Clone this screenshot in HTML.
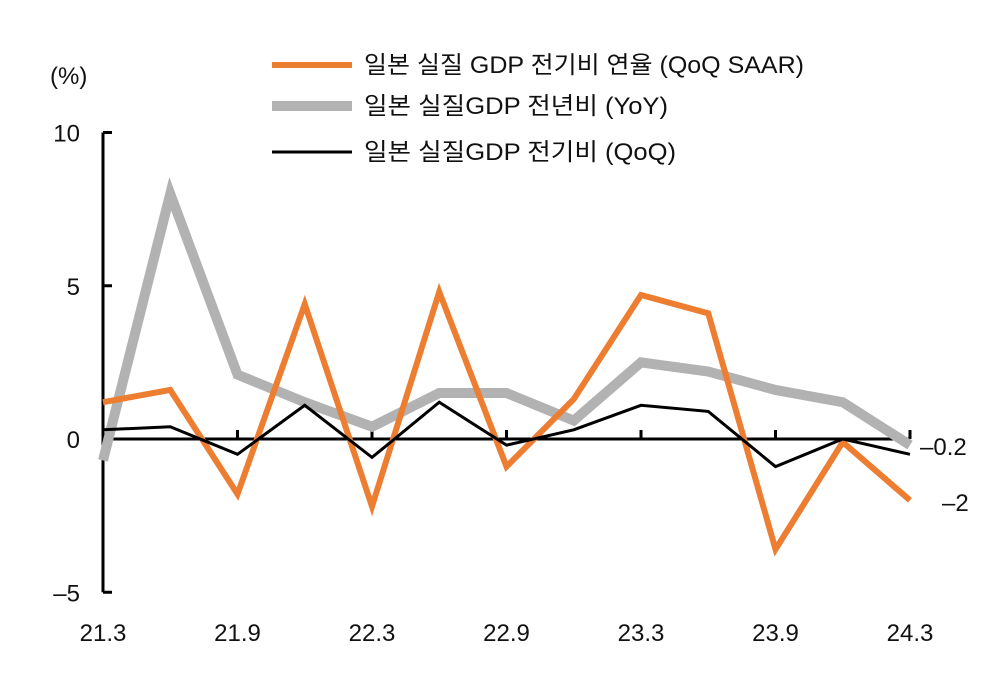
<!DOCTYPE html>
<html><head><meta charset="utf-8"><style>
body{margin:0;background:#fff;}
svg text{font-family:"Liberation Sans","Noto Sans CJK KR",sans-serif;fill:#111;}
</style></head><body>
<svg width="1003" height="678" viewBox="0 0 1003 678">
<g id="axes"></g><g id="series"></g>
<g>
<line x1="272" y1="65" x2="352" y2="65" stroke="#ED7D31" stroke-width="6"/>
<text x="364" y="73" font-size="24" textLength="440" lengthAdjust="spacingAndGlyphs">일본 실질 GDP 전기비 연율 (QoQ SAAR)</text>
<line x1="272" y1="106" x2="352" y2="106" stroke="#B2B2B2" stroke-width="10"/>
<text x="364" y="114" font-size="24" textLength="304" lengthAdjust="spacingAndGlyphs">일본 실질GDP 전년비 (YoY)</text>
<line x1="272" y1="152" x2="352" y2="152" stroke="#000" stroke-width="3"/>
<text x="364" y="160" font-size="24" textLength="312" lengthAdjust="spacingAndGlyphs">일본 실질GDP 전기비 (QoQ)</text>
</g>
<text x="50" y="84" font-size="24">(%)</text>
<text x="920" y="455" font-size="24">–0.2</text>
<text x="942" y="511" font-size="24">–2</text>
</svg>
<script>
const categories=["21.3","21.6","21.9","21.12","22.3","22.6","22.9","22.12","23.3","23.6","23.9","23.12","24.3"];
const saarValues=[1.2,1.6,-1.8,4.4,-2.2,4.8,-0.9,1.3,4.7,4.1,-3.6,-0.1,-2.0];
const yoyValues=[-0.7,8.0,2.1,1.2,0.4,1.5,1.5,0.6,2.5,2.2,1.6,1.2,-0.2];
const qoqValues=[0.3,0.4,-0.5,1.1,-0.6,1.2,-0.2,0.3,1.1,0.9,-0.9,0,-0.5];
const yTicks=[10,5,0,-5];
const xTickLabels=["21.3","21.9","22.3","22.9","23.3","23.9","24.3"];
const NS="http://www.w3.org/2000/svg";
const x0=103,x1=910;
function xs(i){return x0+(x1-x0)*i/(categories.length-1);}
function ys(v){return 439-v*30.65;}
const ax=document.getElementById('axes'),sr=document.getElementById('series');
function mk(t,a,p){const e=document.createElementNS(NS,t);for(const k in a)e.setAttribute(k,a[k]);p.appendChild(e);return e;}
let e=mk('line',{x1:x0,y1:ys(10),x2:x0,y2:ys(-5),stroke:'#000','stroke-width':3},ax);


yTicks.forEach(v=>{
 let t=mk('line',{x1:x0,y1:ys(v),x2:x0+9,y2:ys(v),stroke:'#000','stroke-width':3},ax);
 
 
 let l=mk('text',{x:x0-23,y:ys(v)+9,'font-size':24,'text-anchor':'end'},ax);
 l.textContent=v<0?'–'+Math.abs(v):v;
 
 
});
e=mk('line',{x1:x0,y1:ys(0),x2:x1,y2:ys(0),stroke:'#000','stroke-width':3},ax);


xTickLabels.forEach(lab=>{
 const i=categories.indexOf(lab);
 let t=mk('line',{x1:xs(i),y1:ys(0),x2:xs(i),y2:ys(0)-9,stroke:'#000','stroke-width':3},ax);
 
 
 let l=mk('text',{x:xs(i),y:641,'font-size':24,'text-anchor':'middle'},ax);
 l.textContent=lab;
 
 
});
function line(vals,color,w,name){
 const p=mk('polyline',{points:vals.map((v,i)=>xs(i)+','+ys(v)).join(' '),fill:'none',stroke:color,'stroke-width':w,'stroke-linejoin':'miter'},sr);
 
 
}
line(yoyValues,'#B2B2B2',10,'series-yoy');
line(saarValues,'#ED7D31',6,'series-saar');
line(qoqValues,'#000',3,'series-qoq');
</script>
</body></html>
